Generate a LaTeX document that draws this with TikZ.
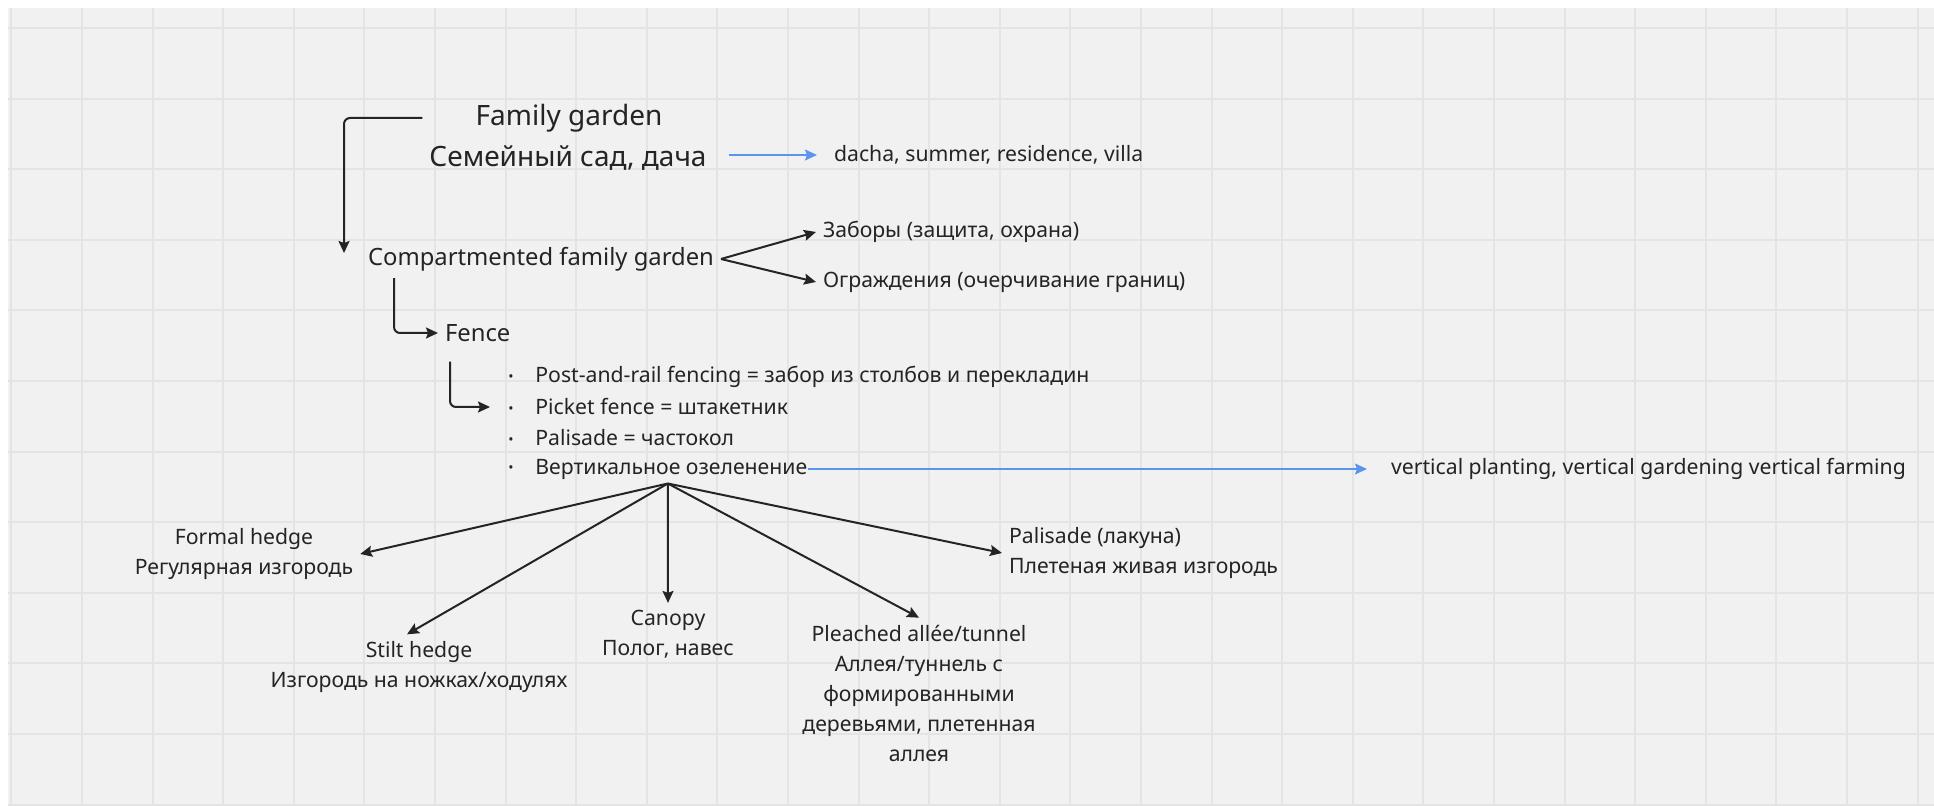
\documentclass[tikz,border=0pt]{standalone}
\usepackage{fontspec}
\setmainfont{Noto Sans}
\usetikzlibrary{arrows.meta,calc}
\definecolor{ink}{HTML}{242424}
\definecolor{lnk}{HTML}{5A94EE}
\definecolor{board}{HTML}{F1F1F1}
\definecolor{gridc}{HTML}{E4E4E4}
\newcommand{\itemdot}{\makebox[13.5pt][l]{\raisebox{0.6pt}{\fontsize{7}{7}\selectfont\textbullet}}}

\begin{document}
\begin{tikzpicture}[x=0.5pt,y=0.5pt,yscale=-1,xscale=1,
  big/.style={text=ink,font=\fontsize{14}{20}\selectfont},
  mid/.style={text=ink,font=\fontsize{11.9}{16}\selectfont},
  sml/.style={text=ink,font=\fontsize{10.6}{15}\selectfont},
  itm/.style={sml,anchor=west,inner sep=0pt},
  arr/.style={draw=ink,line width=1pt,-{Stealth[length=6pt,width=5.5pt,inset=1pt]}},
  blu/.style={draw=lnk,line width=0.8pt,-{Stealth[length=6pt,width=5.5pt,inset=1pt]}},
  elbow/.style={arr,rounded corners=3pt}]
\useasboundingbox (0,0) rectangle (1934,806);

%Shape: Board
\fill[white] (0,0) rectangle (1934,806);
\fill[board] (8,8) rectangle (1934,806);
\foreach \gx in {0,...,27}
  \draw[gridc,line width=1pt] ({11.4+70.6*\gx},8) -- ({11.4+70.6*\gx},806);
\foreach \gy in {0,...,11}
  \draw[gridc,line width=1pt] (8,{28+70.6*\gy}) -- (1934,{28+70.6*\gy});

% Text Node
\node[big] (famEN) at (569,118) {Family garden};
% Text Node
\node[big] (famRU) at (568,158) {Семейный сад, дача};
% Text Node
\node[sml,anchor=west] (dacha) at (827,155) {dacha, summer, residence, villa};
% Text Node
\node[mid] (comp) at (541,259) {Compartmented family garden};
% Text Node
\node[sml,anchor=west] (zab) at (816,232) {Заборы (защита, охрана)};
% Text Node
\node[sml,anchor=west] (ogr) at (816,282) {Ограждения (очерчивание границ)};
% Text Node
\node[mid,anchor=west] (fence) at (438,333) {Fence};
% Text Node
\node[itm] (post) at (508,377) {\itemdot Post-and-rail fencing = забор из столбов и перекладин};
\node[itm] (pick) at (508,407) {\itemdot Picket fence = штакетник};
\node[itm] (pali) at (508,438) {\itemdot Palisade = частокол};
\node[itm] (vert) at (508,469) {\itemdot Вертикальное озеленение};
% Text Node
\node[sml,anchor=west] (vplant) at (1384,469) {vertical planting, vertical gardening vertical farming};
% Text Node
\node[sml,align=center] (formal) at (244,554) {Formal hedge\\Регулярная изгородь};
% Text Node
\node[sml,align=center] (stilt) at (419,667) {Stilt hedge\\Изгородь на ножках/ходулях};
% Text Node
\node[sml,align=center] (canopy) at (668,634) {Canopy\\Полог, навес};
% Text Node
\node[sml,align=center] (pleach) at (919,693) {Pleached allée/tunnel\\Аллея/туннель с\\формированными\\деревьями, плетенная\\аллея};
% Text Node
\node[sml,align=left,anchor=west] (pal) at (1002,553) {Palisade (лакуна)\\Плетеная живая изгородь};

%Straight Lines
\draw[elbow] (famRU.west |- famEN.center) -| ($(comp.west)+(-17,-6)$);
\draw[blu,shorten <=7.5pt,shorten >=5pt] (famRU.east |- dacha.west) -- (dacha.west);
\draw[arr] (comp.east) -- (zab.west);
\draw[arr] (comp.east) -- (ogr.west);
\draw[elbow] ($(comp.south west)+(33,0)$) |- (fence.west);
\draw[elbow,shorten >=9pt] ($(fence.south west)+(12,13)$) |- (pick.west);
\draw[blu,shorten >=8.5pt] (vert.east) -- (vplant.west);

%Straight Lines
\coordinate (fan) at ($(vert.south)+(10,4)$);
\draw[arr] (fan) -- (formal.east);
\draw[arr] (fan) -- ([xshift=-6pt]stilt.north);
\draw[arr] (fan) -- (canopy.north);
\draw[arr] (fan) -- (pleach.north);
\draw[arr] (fan) -- (pal.west);

\end{tikzpicture}
\end{document}
